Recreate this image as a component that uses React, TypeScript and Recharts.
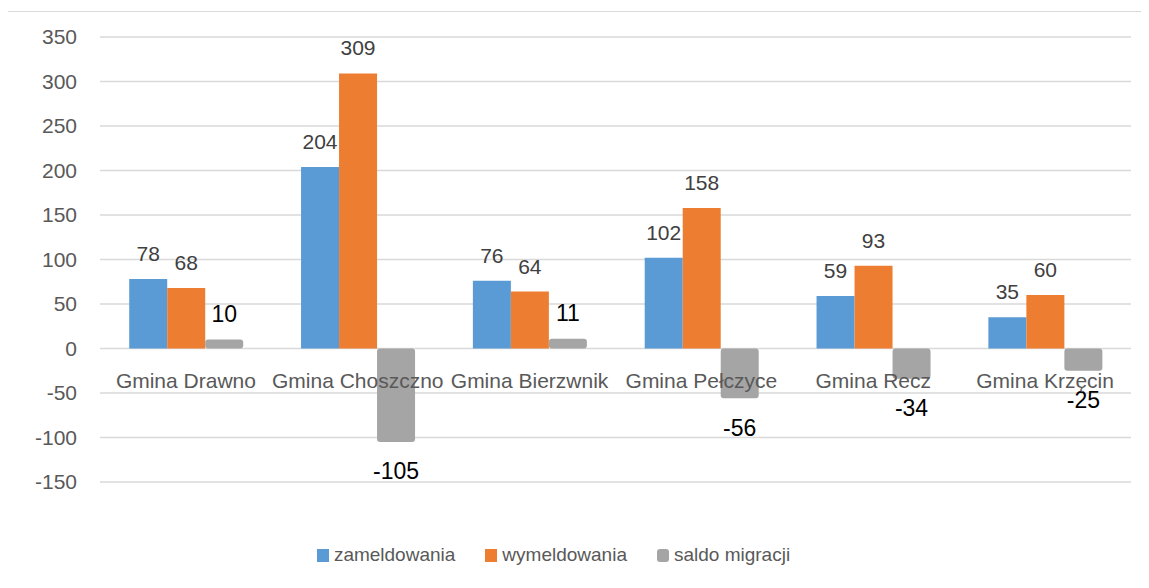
import React from 'react';
import { BarChart, Bar, Line, XAxis, YAxis, CartesianGrid, Legend, LabelList } from 'recharts';

const categories = ['Gmina Drawno', 'Gmina Choszczno', 'Gmina Bierzwnik', 'Gmina Pełczyce', 'Gmina Recz', 'Gmina Krzęcin'];
const zameldowania = [78, 204, 76, 102, 59, 35];
const wymeldowania = [68, 309, 64, 158, 93, 60];
const saldo = [10, -105, 11, -56, -34, -25];
const yTicks = [-150, -100, -50, 0, 50, 100, 150, 200, 250, 300, 350];

const seriesNames = { zam: 'zameldowania', wym: 'wymeldowania', saldo: 'saldo migracji' };
const colors = { zam: '#5B9BD5', wym: '#ED7D31', saldo: '#A5A5A5' };

const data = categories.map((name, i) => ({
  name,
  zam: zameldowania[i],
  wym: wymeldowania[i],
  saldo: saldo[i],
  zero: 0,
}));

const FONT = '"Liberation Sans", Arial, sans-serif';

const SaldoLabel = (props: any) => {
  const { x, y, width, height, value } = props;
  const top = Math.min(y, y + height);
  const bottom = Math.max(y, y + height);
  const cx = x + width / 2;
  if (value >= 0) {
    return (
      <text x={cx} y={top - 18} textAnchor="middle" fill="#000" fontSize={23} fontFamily={FONT}>
        {value}
      </text>
    );
  }
  return (
    <text x={cx} y={bottom + 21 + 16.5} textAnchor="middle" fill="#000" fontSize={23} fontFamily={FONT}>
      {value}
    </text>
  );
};

const CategoryLabel = (props: any) => {
  const { x, y, value } = props;
  return (
    <text x={x} y={y + 39} textAnchor="middle" fill="#595959" fontSize={21} fontFamily={FONT}>
      {value}
    </text>
  );
};

const LegendContent = () => {
  const items = [
    { key: 'zam', radius: 0 },
    { key: 'wym', radius: 0 },
    { key: 'saldo', radius: 3 },
  ] as const;
  return (
    <div style={{ display: 'flex', justifyContent: 'center', gap: 30, fontFamily: FONT, fontSize: 19, color: '#595959', paddingRight: 32 }}>
      {items.map((it) => (
        <div key={it.key} style={{ display: 'flex', alignItems: 'center' }}>
          <span style={{ display: 'inline-block', width: 12, height: 13, background: (colors as any)[it.key], borderRadius: it.radius, marginRight: 5 }} />
          <span>{(seriesNames as any)[it.key]}</span>
        </div>
      ))}
    </div>
  );
};

export default function App() {
  return (
    <div style={{ position: 'relative', width: 1141, height: 572 }}>
      <div
        style={{
          position: 'absolute',
          left: -4,
          top: 3,
          width: 1144,
          height: 575,
          borderTop: '1px solid #d9d9d9',
          borderLeft: '1px solid #d9d9d9',
          boxSizing: 'border-box',
        }}
      />
      <div style={{ position: 'absolute', left: 0, top: 0 }}>
        <BarChart
          width={1141}
          height={572}
          data={data}
          margin={{ top: 29, right: 18, left: 0, bottom: 76 }}
          barCategoryGap="17%"
          barGap={0}
        >
          <CartesianGrid vertical={false} stroke="#d9d9d9" strokeWidth={1.5} />
          <XAxis dataKey="name" hide />
          <YAxis
            domain={[-150, 350]}
            ticks={yTicks}
            width={92}
            axisLine={false}
            tickLine={false}
            tickSize={0}
            tickMargin={23}
            tick={{ fill: '#595959', fontSize: 21, fontFamily: FONT }}
            interval={0}
          />
          <Bar dataKey="zam" name={seriesNames.zam} fill={colors.zam} isAnimationActive={false}>
            <LabelList dataKey="zam" position="top" offset={18} fill="#404040" fontSize={21} fontFamily={FONT} />
          </Bar>
          <Bar dataKey="wym" name={seriesNames.wym} fill={colors.wym} isAnimationActive={false}>
            <LabelList dataKey="wym" position="top" offset={18} fill="#404040" fontSize={21} fontFamily={FONT} />
          </Bar>
          <Bar dataKey="saldo" name={seriesNames.saldo} fill={colors.saldo} radius={3} isAnimationActive={false}>
            <LabelList dataKey="saldo" content={SaldoLabel} />
          </Bar>
          <Line
            dataKey="zero"
            stroke="none"
            dot={false}
            activeDot={false}
            legendType="none"
            isAnimationActive={false}
          >
            <LabelList dataKey="name" content={CategoryLabel} />
          </Line>
          <Legend verticalAlign="bottom" wrapperStyle={{ bottom: 14 }} content={LegendContent} />
        </BarChart>
      </div>
    </div>
  );
}
